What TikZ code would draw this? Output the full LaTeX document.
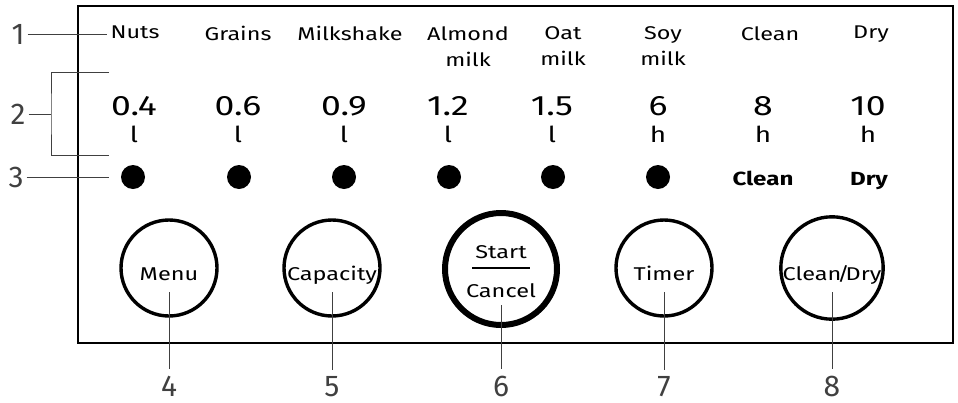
\documentclass[tikz,border=0pt]{standalone}
\usepackage{fontspec}
\setmainfont{Fira Sans}
\newfontfamily\panelfont{Fira Sans}[FakeStretch=1.27]
\usetikzlibrary{positioning}

\tikzset{
  panel/.style={draw, line width=1.4pt},
  callout/.style={draw=black!75, line width=0.8pt},
  calloutnum/.style={font=\fontsize{30}{30}\selectfont, text=black!75, inner sep=3pt},
  prog/.style={font=\panelfont\fontsize{18.4}{26}\selectfont, align=center, inner sep=0pt},
  amount/.style={font=\panelfont\fontsize{28}{28}\selectfont, inner sep=0pt},
  unit/.style={font=\panelfont\fontsize{22}{22}\selectfont, inner sep=0pt},
  lamp/.style={circle, fill, minimum size=24pt, inner sep=0pt},
  lamptext/.style={font=\panelfont\bfseries\fontsize{19}{19}\selectfont, inner sep=0pt},
  btntext/.style={font=\panelfont\fontsize{18.5}{18.5}\selectfont, inner sep=0pt},
  btn/.style={circle, draw, line width=3.4pt, minimum size=96pt, inner sep=0pt,
    font=\panelfont\fontsize{18.5}{18.5}\selectfont, text height=26pt, text depth=2pt},
  bigbtn/.style={circle, draw, line width=6pt, minimum size=112pt, inner sep=0pt},
}

\begin{document}
\begin{tikzpicture}[x=1pt, y=-1pt]
\useasboundingbox (0,0) rectangle (958,402);
\draw[panel] (78,6) rectangle (953,343);

% programmes
\foreach \x/\txt [count=\i] in {135/Nuts, 238/Grains, 350/Milkshake, 468/Almond\\milk,
    563/Oat\\milk, 663/Soy\\milk, 770/Clean, 871/Dry}
  \node[prog, anchor=north] (prog\i) at (\x,26) {\txt};

% amounts and times
\foreach \x/\n/\u [count=\i] in {134/0.4/l, 238/0.6/l, 344/0.9/l, 448/1.2/l,
    552/1.5/l, 658/6/h, 763/8/h, 868/10/h} {
  \node[amount, anchor=base] (amount\i) at (\x,115) {\n};
  \node[unit, anchor=base] (unit\i) at (\x,142) {\u};
}

% indicator lamps
\foreach \x [count=\i] in {133,239,344,449,553,658}
  \node[lamp] (lamp\i) at (\x,177) {};
\node[lamptext, anchor=base] (lampclean) at (763,185) {Clean};
\node[lamptext, anchor=base] (lampdry) at (869,185) {Dry};

% buttons
\node[btn] (menu) at (169,268) {Menu};
\node[btn] (capacity) at (332,268) {Capacity};
\node[bigbtn] (start) at (501,269) {};
\node[btntext, anchor=base] (startlbl) at (501,258) {Start};
\node[btntext, anchor=base] (cancellbl) at (501,297) {Cancel};
\draw[line width=1.5pt] (472,268) -- (530,268);
\node[btn] (timer) at (664,268) {Timer};
\node[btn] (cleandry) at (832,268) {Clean\kern-4pt/\kern-4ptDry};

% callouts left
\node[calloutnum] (c1) at (18,34) {1};
\node[calloutnum] (c2) at (18,114) {2};
\node[calloutnum] (c3) at (16,177) {3};
\draw[callout, shorten >=3pt] (c1) -- (c1 -| prog1.west);
\coordinate (brtop) at (109,72);
\coordinate (brmid) at (51,114);
\coordinate (brbot) at (109,155);
\draw[callout] (c2) -- (brmid);
\draw[callout] (brtop) -| (brmid) |- (brbot);
\draw[callout] (c3) -- ([xshift=-12pt]lamp1.west);

% callouts below
\coordinate (numline) at (0,396);
\foreach \b/\n in {menu/4, capacity/5, timer/7, cleandry/8} {
  \node[calloutnum, anchor=base] (c\n) at (\b |- numline) {\n};
  \draw[callout, shorten >=3pt] ([yshift=-24pt]\b.center) -- (c\n);
}
\node[calloutnum, anchor=base] (c6) at (start |- numline) {6};
\draw[callout, shorten >=3pt] ([yshift=-36pt]start.center) -- (c6);
\end{tikzpicture}
\end{document}
